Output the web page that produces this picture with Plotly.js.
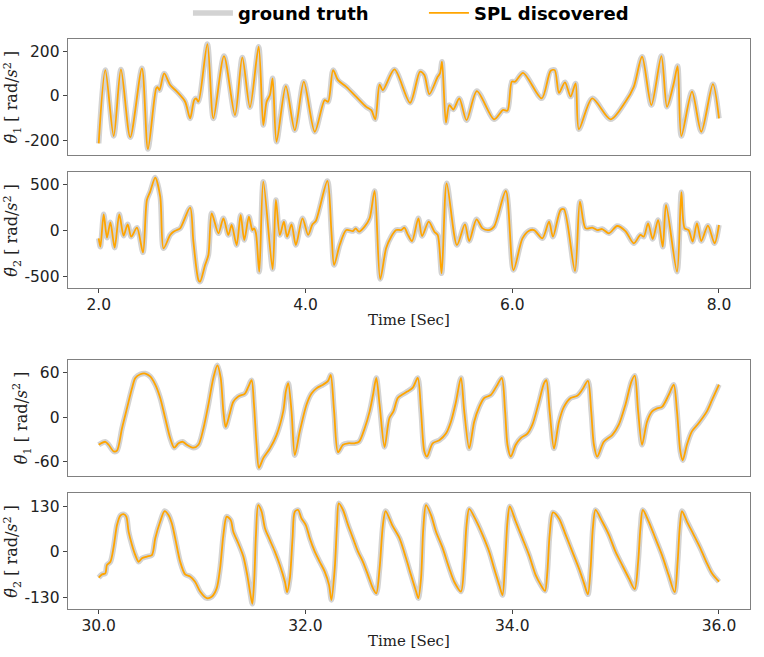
<!DOCTYPE html>
<html>
<head>
<meta charset="utf-8">
<script src="https://cdn.plot.ly/plotly-3.0.1.min.js"></script>
<style>html,body{margin:0;padding:0;background:#fff;}#chart{width:764px;height:657px;}</style>
</head>
<body>
<div id="chart"></div>
<script>
// ---- Data ----
// Panel 1: theta1 acceleration, t = 2..8 s
const t1 = [2.000,2.064,2.145,2.215,2.305,2.418,2.476,2.556,2.569,2.588,2.633,2.691,2.756,2.836,2.884,2.923,2.942,2.965,3.051,3.109,3.212,3.318,3.389,3.463,3.547,3.592,3.624,3.656,3.682,3.720,3.810,3.897,3.984,4.090,4.186,4.219,4.267,4.315,4.395,4.492,4.588,4.637,4.675,4.717,4.748,4.861,5.012,5.108,5.150,5.198,5.279,5.301,5.321,5.359,5.391,5.430,5.488,5.558,5.658,5.825,5.912,5.954,5.996,6.028,6.105,6.285,6.372,6.411,6.452,6.510,6.565,6.613,6.645,6.774,6.951,7.095,7.176,7.256,7.346,7.443,7.497,7.562,7.600,7.636,7.739,7.829,7.941,8.000];
const a1 = [-214,115,-181,118,-187,123,-240,33,38,25,100,48,18,-27,-102,-20,-12,-27,232,-102,178,-87,172,-52,220,-132,-27,3,78,-207,43,-155,63,-162,-20,-27,115,70,40,-5,-50,-65,-106,50,25,118,-32,108,93,7,85,100,153,-121,-42,-62,-12,-110,21,-106,-64,-67,63,63,103,-12,112,115,13,60,-4,55,-151,-12,-106,-27,40,175,-42,178,-50,55,133,-181,18,-162,52,-102];

// Panel 2: theta2 acceleration, t = 2..8 s
const t2 = [2.000,2.016,2.048,2.080,2.113,2.154,2.199,2.241,2.280,2.315,2.370,2.428,2.466,2.498,2.547,2.595,2.627,2.691,2.723,2.756,2.788,2.884,2.916,2.965,2.981,3.029,3.061,3.093,3.158,3.206,3.254,3.286,3.334,3.373,3.408,3.453,3.486,3.502,3.521,3.553,3.592,3.682,3.714,3.752,3.791,3.823,3.865,3.907,3.971,4.026,4.068,4.100,4.212,4.251,4.277,4.331,4.395,4.460,4.486,4.518,4.572,4.621,4.669,4.723,4.780,4.829,4.877,4.925,4.957,4.989,5.031,5.092,5.128,5.192,5.247,5.279,5.317,5.366,5.465,5.542,5.584,5.655,5.713,5.777,5.825,5.938,6.012,6.099,6.163,6.211,6.292,6.356,6.394,6.468,6.501,6.607,6.655,6.710,6.774,6.822,6.870,6.935,7.015,7.095,7.176,7.240,7.272,7.314,7.359,7.411,7.456,7.488,7.594,7.636,7.668,7.706,7.745,7.787,7.829,7.893,7.957,8.000];
const a2 = [-84,-175,178,-76,91,-186,178,-55,69,-66,33,-237,335,426,579,371,-193,-47,-11,7,25,251,-120,-539,-557,-375,-266,189,-29,135,-47,62,-157,171,-102,153,7,25,-29,-448,535,-419,335,-47,98,-66,69,-157,135,-47,69,106,542,-11,-375,-157,7,-4,25,-11,44,135,433,-528,-193,-66,7,7,33,-40,-113,135,-58,98,-11,-47,-466,517,-157,69,-113,124,25,7,44,433,-430,-84,0,7,-84,98,-66,226,233,-440,317,25,33,7,18,-29,51,-4,-138,-47,-66,80,-91,116,-175,280,-448,419,25,7,-120,80,-113,55,-138,62];

// Panel 3: theta1 acceleration, t = 30..36 s
const t3 = [30.000,30.064,30.096,30.145,30.177,30.225,30.273,30.322,30.354,30.402,30.450,30.498,30.547,30.595,30.643,30.691,30.730,30.772,30.814,30.852,30.916,30.965,31.013,31.061,31.109,31.148,31.180,31.206,31.228,31.264,31.302,31.350,31.415,31.447,31.479,31.502,31.527,31.550,31.592,31.656,31.720,31.785,31.810,31.833,31.865,31.897,31.945,32.010,32.058,32.106,32.170,32.219,32.244,32.277,32.315,32.363,32.412,32.476,32.518,32.572,32.621,32.653,32.685,32.717,32.765,32.812,32.851,32.893,32.941,32.989,33.038,33.086,33.118,33.150,33.176,33.230,33.295,33.359,33.407,33.456,33.504,33.536,33.584,33.632,33.681,33.729,33.793,33.857,33.899,33.931,33.954,33.986,34.034,34.083,34.147,34.195,34.259,34.308,34.330,34.362,34.404,34.452,34.500,34.565,34.629,34.677,34.732,34.764,34.790,34.822,34.886,34.967,35.031,35.095,35.153,35.185,35.218,35.256,35.304,35.353,35.401,35.449,35.513,35.562,35.594,35.626,35.649,35.690,35.738,35.803,35.883,35.932,36.000];
const a3 = [-37,-33,-37,-46,-45,-15,12,39,53,58,59,55,44,26,-1,-28,-41,-35,-33,-37,-41,-37,-15,17,53,70,53,8,-13,3,21,28,32,41,50,17,-37,-68,-55,-42,-24,8,35,46,8,-51,-19,17,32,39,44,49,57,8,-47,-37,-35,-35,-33,-15,8,30,53,17,-40,-1,8,26,31,35,40,53,8,-46,-53,-35,-31,-22,-6,21,53,8,-42,-6,14,26,30,44,53,8,-37,-53,-37,-28,-22,-10,21,46,50,8,-42,-6,14,26,29,37,49,8,-37,-53,-33,-24,-10,17,48,56,8,-37,-6,8,12,14,30,44,8,-46,-58,-37,-19,-8,8,23,44];

// Panel 4: theta2 acceleration, t = 30..36 s
const t4 = [30.000,30.032,30.064,30.080,30.113,30.145,30.177,30.209,30.241,30.267,30.289,30.322,30.354,30.386,30.418,30.466,30.514,30.547,30.595,30.637,30.675,30.707,30.740,30.788,30.836,30.884,30.932,30.981,31.045,31.093,31.141,31.174,31.206,31.238,31.277,31.302,31.350,31.399,31.437,31.463,31.486,31.505,31.521,31.543,31.576,31.608,31.656,31.704,31.752,31.801,31.823,31.849,31.875,31.897,31.929,31.961,32.003,32.042,32.090,32.138,32.186,32.228,32.251,32.283,32.305,32.322,32.363,32.412,32.460,32.508,32.556,32.605,32.653,32.685,32.717,32.749,32.775,32.840,32.910,32.973,33.021,33.070,33.092,33.118,33.140,33.166,33.214,33.263,33.327,33.391,33.439,33.504,33.536,33.558,33.584,33.648,33.713,33.777,33.825,33.874,33.906,33.931,33.954,33.976,34.034,34.099,34.163,34.227,34.276,34.317,34.340,34.362,34.394,34.452,34.517,34.581,34.645,34.694,34.732,34.758,34.780,34.806,34.870,34.935,34.999,35.063,35.128,35.185,35.218,35.240,35.263,35.320,35.385,35.449,35.513,35.571,35.600,35.620,35.642,35.690,35.755,35.819,35.883,35.932,36.000];
const a4 = [-74,-65,-62,-38,-29,14,76,103,107,100,57,19,-10,-29,-19,-14,-10,38,86,116,105,81,38,-29,-65,-71,-86,-114,-133,-129,-105,-48,48,100,90,57,24,-14,-67,-114,-149,-76,48,133,114,67,33,0,-38,-86,-116,-76,38,114,119,95,76,38,0,-29,-57,-95,-138,-48,76,138,119,76,38,0,-29,-67,-105,-119,-48,76,116,75,38,-19,-67,-114,-133,-76,67,133,105,57,10,-48,-86,-114,-29,76,122,90,48,0,-48,-95,-124,-29,86,129,86,38,-10,-67,-95,-112,-57,48,112,95,48,0,-48,-90,-122,-48,67,119,86,48,0,-38,-76,-107,-29,67,119,86,38,-10,-67,-116,-29,67,116,86,48,10,-33,-62,-86];

// Tick labels
const tickTop = [2, 4, 6, 8];
const tickTopText = ['2.0', '4.0', '6.0', '8.0'];
const tickBot = [30, 32, 34, 36];
const tickBotText = ['30.0', '32.0', '34.0', '36.0'];
const y1Ticks = [-200, 0, 200], y1Text = ['-200', '0', '200'];
const y2Ticks = [-500, 0, 500], y2Text = ['-500', '0', '500'];
const y3Ticks = [-60, 0, 60], y3Text = ['-60', '0', '60'];
const y4Ticks = [-130, 0, 130], y4Text = ['-130', '0', '130'];

const seriesNames = ['ground truth', 'SPL discovered'];

// ---- Build figure ----
const panels = [[t1, a1], [t2, a2], [t3, a3], [t4, a4]];
const traces = [];
panels.forEach((p, i) => {
  const ax = i === 0 ? '' : String(i + 1);
  traces.push({
    x: p[0], y: p[1], type: 'scatter', mode: 'lines',
    xaxis: 'x' + ax, yaxis: 'y' + ax,
    line: {color: '#d3d3d3', width: 5.5, shape: 'spline', smoothing: 0.8},
    name: '<b>' + seriesNames[0] + '</b>', legendgroup: 'gt', showlegend: i === 0,
    hoverinfo: 'skip'
  });
  traces.push({
    x: p[0], y: p[1], type: 'scatter', mode: 'lines',
    xaxis: 'x' + ax, yaxis: 'y' + ax,
    line: {color: '#ffa500', width: 1.8, shape: 'spline', smoothing: 0.8},
    name: '<b>' + seriesNames[1] + '</b>', legendgroup: 'spl', showlegend: i === 0,
    hoverinfo: 'skip'
  });
});

const tickFont = {family: 'DejaVu Sans', size: 15.5, color: '#222'};
const titleFont = {family: 'DejaVu Serif', size: 16, color: '#222'};
const xDom = [67.7 / 764, 750 / 764];
function dom(top, bottom) { return [1 - bottom / 657, 1 - top / 657]; }

function xax(anchor, range, vals, text, show, title) {
  const o = {
    domain: xDom, anchor: anchor, range: range,
    showgrid: false, zeroline: false,
    showline: true, mirror: true, linecolor: '#808080', linewidth: 1,
    tickmode: 'array', tickvals: vals, ticktext: text,
    showticklabels: show, ticks: show ? 'outside' : '', ticklen: 4, tickcolor: '#444',
    ticklabelstandoff: -2,
    tickfont: tickFont
  };
  if (title) o.title = {text: title, font: {family: 'DejaVu Serif', size: 15, color: '#222'}, standoff: 1};
  return o;
}
function yax(anchor, d, range, vals, text, title) {
  return {
    domain: d, anchor: anchor, range: range,
    showgrid: false, zeroline: false,
    showline: true, mirror: true, linecolor: '#808080', linewidth: 1,
    tickmode: 'array', tickvals: vals, ticktext: text,
    ticks: 'outside', ticklen: 4, tickcolor: '#444',
    tickfont: tickFont,
    title: {text: title, font: titleFont, standoff: 2}
  };
}
const yt1 = '<i>θ̈</i><sub>1</sub> [ rad/<i>s</i><sup>2</sup> ]';
const yt2 = '<i>θ̈</i><sub>2</sub> [ rad/<i>s</i><sup>2</sup> ]';

const layout = {
  width: 764, height: 657,
  margin: {l: 0, r: 0, t: 0, b: 0, autoexpand: false},
  paper_bgcolor: '#fff', plot_bgcolor: '#fff',
  showlegend: true,
  legend: {
    orientation: 'h', x: 0.246, xanchor: 'left', y: 1.008, yanchor: 'top',
    font: {family: 'DejaVu Sans', size: 18, color: '#000'},
    bgcolor: 'rgba(0,0,0,0)', itemwidth: 40, traceorder: 'normal',
    entrywidth: 181, entrywidthmode: 'pixels'
  },
  xaxis: xax('y', [1.7, 8.3], tickTop, tickTopText, false),
  xaxis2: xax('y2', [1.7, 8.3], tickTop, tickTopText, true, 'Time [Sec]'),
  xaxis3: xax('y3', [29.7, 36.3], tickBot, tickBotText, false),
  xaxis4: xax('y4', [29.7, 36.3], tickBot, tickBotText, true, 'Time [Sec]'),
  yaxis: yax('x', dom(39.3, 155), [-266.5, 253.5], y1Ticks, y1Text, yt1),
  yaxis2: yax('x2', dom(172.3, 288.3), [-629, 637], y2Ticks, y2Text, yt2),
  yaxis3: yax('x3', dom(360, 475.7), [-78.7, 77.2], y3Ticks, y3Text, yt1),
  yaxis4: yax('x4', dom(493.3, 609.3), [-164.8, 166.7], y4Ticks, y4Text, yt2)
};

Plotly.newPlot('chart', traces, layout, {displayModeBar: false, staticPlot: true});
</script>
</body>
</html>
